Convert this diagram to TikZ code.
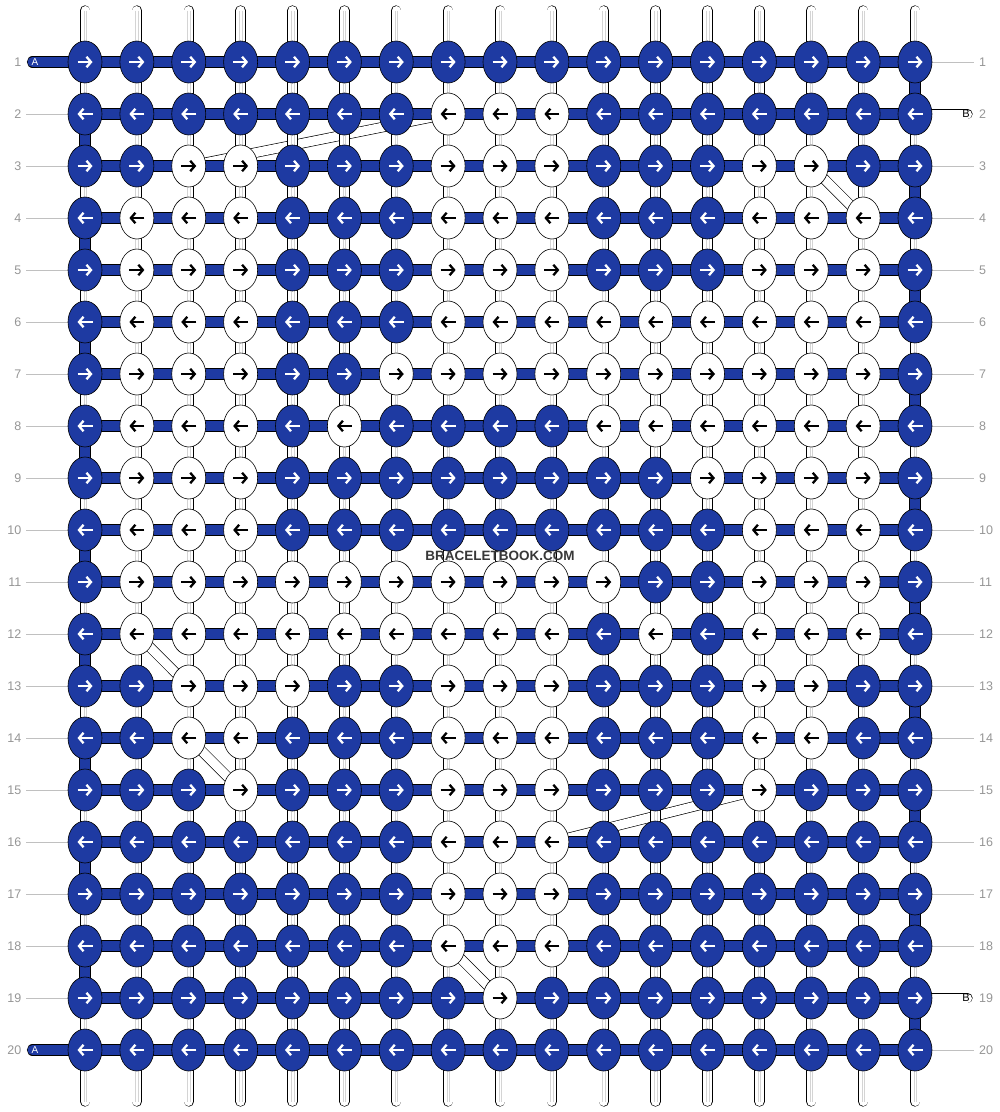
\documentclass[tikz,border=0pt]{standalone}
\usepackage{fontspec}
\setmainfont{Liberation Sans}
\usetikzlibrary{shapes.geometric, arrows.meta}
\definecolor{bblue}{RGB}{30, 58, 162}
\definecolor{lgray}{RGB}{192, 192, 192}
\definecolor{dgray}{RGB}{150, 150, 150}
\definecolor{mgray}{RGB}{212, 212, 212}
\def\knotBlue{bblue}
\def\knotWhite{white}
\tikzset{>=latex}
\tikzset{
  bead/.style = {ellipse, draw = black, line width = 0.6pt, minimum width = 34pt, minimum height = 42pt, inner sep = 0pt},
  whitethread/.style = {double = white, double distance = 9pt, line width = 0.65pt, line cap = round},
  bluethread/.style = {double = \knotBlue, double distance = 10pt, line width = 0.6pt},
  kdir/.style = {line width = 2.3pt, -{Straight Barb[length = 4.5pt, width = 10.5pt]}},
  guide/.style = {draw = lgray, line width = 0.8pt},
  rowno/.style = {text = dgray, font = \fontsize{12.5}{14}\selectfont, inner sep = 0pt}
}

\begin{document}
\begin{tikzpicture}[x = 1pt, y = -1pt]
  \fill[white] (0, 0) rectangle (1000, 1112);
  \useasboundingbox (0, 0) rectangle (1000, 1112);
  \foreach \r in {1,...,20} {
    \coordinate (a-\r) at (32.5, {62 + (\r - 1) * 52});
    \coordinate (b-\r) at (967.5, {62 + (\r - 1) * 52});
    \coordinate (gl-\r) at (26, {62 + (\r - 1) * 52});
    \coordinate (gr-\r) at (974, {62 + (\r - 1) * 52});
    \foreach \c in {1,...,17}
      \coordinate (p-\r-\c) at ({85 + (\c - 1) * 51.875}, {62 + (\r - 1) * 52});
  }
  \foreach \c in {1,...,17} {
    \coordinate (top-\c) at ({85 + (\c - 1) * 51.875}, 10.5);
    \coordinate (bot-\c) at ({85 + (\c - 1) * 51.875}, 1101.5);
  }
  \foreach \u/\v in {3-3/2-8, 3-15/4-16, 12-2/13-3, 14-3/15-4, 15-14/16-10, 18-8/19-9}
    \draw[whitethread, line cap = butt] (p-\u) -- (p-\v);
  \foreach \c in {1,...,17} {
    \draw[whitethread] (top-\c) -- (bot-\c);
    \draw[mgray, line width = 0.4pt] ([xshift = -1.3pt]top-\c) -- ([xshift = -1.3pt]bot-\c);
    \draw[mgray, line width = 0.4pt] ([xshift = 1.3pt]top-\c) -- ([xshift = 1.3pt]bot-\c);
  }
  \foreach \r in {1,...,20}
    \draw[bluethread] (p-\r-1) -- (p-\r-17);
  \foreach \r in {1, 20}
    \draw[bluethread, line cap = round] (a-\r) -- (p-\r-1);
  \foreach \r in {2, 19}
    \draw[whitethread] (p-\r-17) -- (b-\r);
  \foreach \r [evaluate = \r as \s using int(\r + 1)] in {2, 4, ..., 18}
    \draw[bluethread] (p-\r-1) -- (p-\s-1);
  \foreach \r [evaluate = \r as \s using int(\r + 1)] in {1, 3, ..., 19}
    \draw[bluethread] (p-\r-17) -- (p-\s-17);
  \foreach \r in {2, ..., 19}
    \draw[guide] (gl-\r) -- (p-\r-1);
  \foreach \r in {1, 3, 4, ..., 18, 20}
    \draw[guide] (p-\r-17) -- (gr-\r);
  \foreach \r in {1,...,20} {
    \node[rowno, anchor = east] (ln-\r) at ([xshift = -4.5pt]gl-\r) {\r};
    \node[rowno, anchor = west] (rn-\r) at ([xshift = 5pt]gr-\r) {\r};
  }
  \foreach \r/\cols in {2/{8,9,10}, 3/{3,4,8,9,10,14,15}, 4/{2,3,4,8,9,10,14,15,16},
      5/{2,3,4,8,9,10,14,15,16}, 6/{2,3,4,8,9,10,11,12,13,14,15,16},
      7/{2,3,4,7,8,9,10,11,12,13,14,15,16}, 8/{2,3,4,6,11,12,13,14,15,16},
      9/{2,3,4,13,14,15,16}, 10/{2,3,4,14,15,16},
      11/{2,3,4,5,6,7,8,9,10,11,14,15,16}, 12/{2,3,4,5,6,7,8,9,10,12,14,15,16},
      13/{3,4,5,8,9,10,14,15}, 14/{3,4,8,9,10,14,15}, 15/{4,8,9,10,14},
      16/{8,9,10}, 17/{8,9,10}, 18/{8,9,10}, 19/{9}}
    \foreach \c in \cols {
      \expandafter\gdef\csname wb-\r-\c\endcsname{}
    }
  \foreach \r in {1,...,20}
    \foreach \c in {1,...,17} {
      \ifcsname wb-\r-\c\endcsname
        \def\kfill{\knotWhite}\def\kink{black}
      \else
        \def\kfill{\knotBlue}\def\kink{white}
      \fi
      \ifodd\r
        \def\ka{-7.5}\def\kb{7.5}
      \else
        \def\ka{7.5}\def\kb{-7.5}
      \fi
      \node[bead, fill = \kfill] (k-\r-\c) at (p-\r-\c) {};
      \draw[kdir, draw = \kink] ([xshift = \ka pt]k-\r-\c.center) -- ([xshift = \kb pt]k-\r-\c.center);
    }
  \foreach \r in {1, 20}
    \node[text = white, font = \fontsize{10}{11}\selectfont, inner sep = 0pt] (la-\r) at ([xshift = 2.5pt]a-\r) {A};
  \foreach \r in {2, 19}
    \node[font = \fontsize{11}{12}\selectfont, inner sep = 0pt] (lb-\r) at ([xshift = -1.5pt]b-\r) {B};
  \node[font = \bfseries\fontsize{13.5}{16}\selectfont, text = black!78] (logo) at (500, 555.5) {BRACELETBOOK.COM};
\end{tikzpicture}
\end{document}
